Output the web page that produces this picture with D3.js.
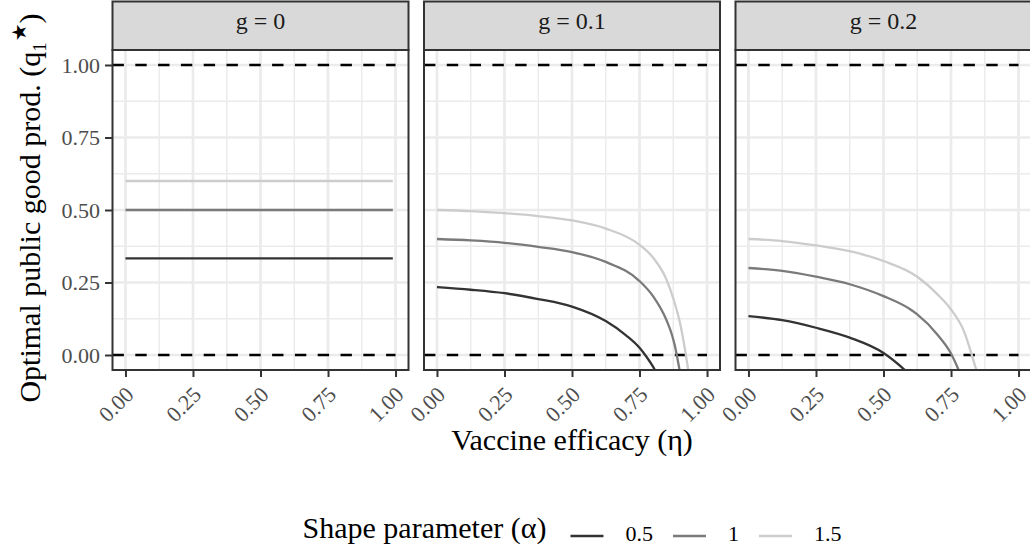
<!DOCTYPE html>
<html>
<head>
<meta charset="utf-8">
<script src="https://cdn.jsdelivr.net/npm/d3@7"></script>
<style>
  body { margin: 0; background: #fff; }
  svg { display: block; }
  text { font-family: "Liberation Serif", "Times New Roman", serif; }
</style>
</head>
<body>
<svg id="chart" width="1030" height="557"></svg>
<script>
// ---- data ----
const facetLabels = ["g = 0", "g = 0.1", "g = 0.2"];
const alphaLevels = ["0.5", "1", "1.5"];
const xTicks = [0, 0.25, 0.5, 0.75, 1];
const yTicks = [0, 0.25, 0.5, 0.75, 1];
const xMinor = [0.125, 0.375, 0.625, 0.875];
const yMinor = [0.125, 0.375, 0.625, 0.875];
const refLevels = [0, 1];          // dashed reference lines
const refEnd = 1;                  // reference lines run up to eta = 1

// [eta, q1*] pairs, one array per (g, alpha)
const g0_a05 = [[0, 0.333], [0.99, 0.333]];
const g0_a1  = [[0, 0.5], [0.99, 0.5]];
const g0_a15 = [[0, 0.6], [0.99, 0.6]];

const g01_a05 = [[0, 0.234], [0.125, 0.225], [0.25, 0.213], [0.375, 0.193], [0.5, 0.167],
                 [0.625, 0.117], [0.7, 0.068], [0.75, 0.025], [0.775, -0.005], [0.8, -0.04], [0.82, -0.075]];
const g01_a1  = [[0, 0.4], [0.125, 0.395], [0.25, 0.387], [0.375, 0.373], [0.5, 0.355],
                 [0.625, 0.321], [0.75, 0.255], [0.8, 0.203], [0.85, 0.12], [0.87, 0.07],
                 [0.88, 0.035], [0.89, -0.01], [0.9, -0.06]];
const g01_a15 = [[0, 0.5], [0.125, 0.496], [0.25, 0.489], [0.375, 0.479], [0.5, 0.464],
                 [0.625, 0.436], [0.75, 0.38], [0.8, 0.336], [0.85, 0.26], [0.875, 0.195],
                 [0.9, 0.11], [0.92, 0.01], [0.93, -0.05], [0.935, -0.08]];

const g02_a05 = [[0, 0.134], [0.125, 0.12], [0.25, 0.094], [0.375, 0.06], [0.5, 0.007],
                 [0.577, -0.05], [0.6, -0.07]];
const g02_a1  = [[0, 0.3], [0.125, 0.29], [0.25, 0.27], [0.375, 0.244], [0.5, 0.203],
                 [0.6, 0.157], [0.625, 0.14], [0.7, 0.07], [0.75, 0.005], [0.775, -0.045], [0.79, -0.08]];
const g02_a15 = [[0, 0.4], [0.125, 0.393], [0.25, 0.378], [0.375, 0.358], [0.5, 0.324],
                 [0.625, 0.27], [0.7, 0.209], [0.75, 0.157], [0.8, 0.077], [0.827, 0],
                 [0.845, -0.055], [0.855, -0.08]];

const facetSeries = [
  [g0_a05, g0_a1, g0_a15],
  [g01_a05, g01_a1, g01_a15],
  [g02_a05, g02_a1, g02_a15]
];

// ---- styling / layout ----
const alphaColors = ["#333333", "#7a7a7a", "#cccccc"];
const panelLeft0 = 112.5, panelStep = 311.5, panelW = 296;
const panelTop = 50, panelBottom = 370, stripTop = 1.5;
const tickFont = 22, stripFont = 24, titleFont = 30;

const svg = d3.select("#chart");
const defs = svg.append("defs");

const x = d3.scaleLinear().domain([-0.048, 1.048]).range([0, panelW]);
const y = d3.scaleLinear().domain([-0.0517, 1.0517]).range([panelBottom, panelTop]);

const line = d3.line()
  .x(d => x(d[0]))
  .y(d => y(d[1]))
  .curve(d3.curveMonotoneX);

facetLabels.forEach((lab, i) => {
  const left = panelLeft0 + i * panelStep;
  const g = svg.append("g").attr("transform", `translate(${left},0)`);

  defs.append("clipPath").attr("id", "clip" + i)
    .append("rect").attr("x", 0).attr("y", panelTop)
    .attr("width", panelW).attr("height", panelBottom - panelTop);

  g.append("rect").attr("x", 0).attr("y", panelTop)
    .attr("width", panelW).attr("height", panelBottom - panelTop).attr("fill", "#fff");

  const grid = g.append("g");
  // minor grid
  grid.selectAll(".vmin").data(xMinor).join("line")
    .attr("x1", d => x(d)).attr("x2", d => x(d))
    .attr("y1", panelTop).attr("y2", panelBottom)
    .attr("stroke", "#ebebeb").attr("stroke-width", 1.4);
  grid.selectAll(".hmin").data(yMinor).join("line")
    .attr("x1", 0).attr("x2", panelW)
    .attr("y1", d => y(d)).attr("y2", d => y(d))
    .attr("stroke", "#ebebeb").attr("stroke-width", 1.4);
  // major grid
  grid.selectAll(".vmaj").data(xTicks).join("line")
    .attr("x1", d => x(d)).attr("x2", d => x(d))
    .attr("y1", panelTop).attr("y2", panelBottom)
    .attr("stroke", "#ebebeb").attr("stroke-width", 2.7);
  grid.selectAll(".hmaj").data(yTicks).join("line")
    .attr("x1", 0).attr("x2", panelW)
    .attr("y1", d => y(d)).attr("y2", d => y(d))
    .attr("stroke", "#ebebeb").attr("stroke-width", 2.7);

  const body = g.append("g").attr("clip-path", `url(#clip${i})`);

  // dashed reference lines at 0 and 1
  body.selectAll(".ref").data(refLevels).join("line")
    .attr("x1", 0).attr("x2", x(refEnd))
    .attr("y1", d => y(d)).attr("y2", d => y(d))
    .attr("stroke", "#000").attr("stroke-width", 2.6)
    .attr("stroke-dasharray", "11.4,11.4");

  // curves, one per alpha
  body.selectAll(".curve").data(facetSeries[i]).join("path")
    .attr("d", d => line(d))
    .attr("fill", "none")
    .attr("stroke", (d, k) => alphaColors[k])
    .attr("stroke-width", 2.3);

  // panel border
  g.append("rect").attr("x", 0).attr("y", panelTop)
    .attr("width", panelW).attr("height", panelBottom - panelTop)
    .attr("fill", "none").attr("stroke", "#333333").attr("stroke-width", 2);

  // strip
  g.append("rect").attr("x", 0).attr("y", stripTop)
    .attr("width", panelW).attr("height", panelTop - stripTop)
    .attr("fill", "#d9d9d9").attr("stroke", "#333333").attr("stroke-width", 2);
  g.append("text").attr("x", panelW / 2).attr("y", 29)
    .attr("text-anchor", "middle").attr("font-size", stripFont).attr("fill", "#1a1a1a")
    .text(lab);

  // x axis
  const xAxis = g.append("g").attr("transform", `translate(0,${panelBottom})`)
    .call(d3.axisBottom(x).tickValues(xTicks).tickFormat(d3.format(".2f")).tickSize(7));
  xAxis.select(".domain").remove();
  xAxis.selectAll(".tick line").attr("stroke", "#333333").attr("stroke-width", 2);
  xAxis.selectAll(".tick text")
    .attr("x", 0).attr("y", 0).attr("dy", "0.71em")
    .attr("transform", "translate(-2,15) rotate(-45)")
    .attr("text-anchor", "end")
    .attr("font-size", tickFont).attr("font-family", "Liberation Serif, serif")
    .attr("fill", "#4d4d4d");

  // y axis on the first panel only
  if (i === 0) {
    const yAxis = g.append("g")
      .call(d3.axisLeft(y).tickValues(yTicks).tickFormat(d3.format(".2f")).tickSize(7.5).tickPadding(5));
    yAxis.select(".domain").remove();
    yAxis.selectAll(".tick line").attr("stroke", "#333333").attr("stroke-width", 2);
    yAxis.selectAll(".tick text")
      .attr("font-size", tickFont).attr("font-family", "Liberation Serif, serif")
      .attr("fill", "#4d4d4d");
  }
});

// axis titles
const plotMid = (panelLeft0 + panelLeft0 + 2 * panelStep + panelW) / 2;
svg.append("text").attr("x", plotMid).attr("y", 450)
  .attr("text-anchor", "middle").attr("font-size", titleFont).attr("fill", "#000")
  .text("Vaccine efficacy (\u03b7)");

const yTitle = svg.append("text")
  .attr("transform", `translate(40,${(panelTop + panelBottom) / 2 - 2}) rotate(-90)`)
  .attr("text-anchor", "middle").attr("font-size", titleFont).attr("fill", "#000");
yTitle.append("tspan").text("Optimal public good prod. (q");
yTitle.append("tspan").attr("font-size", 19).attr("dy", 6).text("1");
yTitle.append("tspan").attr("font-size", 20).attr("dy", -20).attr("dx", 1)
  .attr("font-family", "DejaVu Sans, sans-serif").text("\u2605");
yTitle.append("tspan").attr("dy", 14).text(")");

// legend
const legend = svg.append("g");
const legY = 536;
const legTitle = legend.append("text").attr("x", 0).attr("y", 538)
  .attr("font-size", titleFont).attr("fill", "#000").text("Shape parameter (\u03b1)");
let cursor = legTitle.node().getComputedTextLength() + 24;
alphaLevels.forEach((lv, k) => {
  legend.append("line").attr("x1", cursor).attr("x2", cursor + 33)
    .attr("y1", legY).attr("y2", legY)
    .attr("stroke", alphaColors[k]).attr("stroke-width", 2.3);
  cursor += 33 + 22;
  const t = legend.append("text").attr("x", cursor).attr("y", 540.5)
    .attr("font-size", tickFont).attr("fill", "#000").text(lv);
  cursor += t.node().getComputedTextLength() + (k < alphaLevels.length - 1 ? 20 : 0);
});
legend.attr("transform", `translate(${plotMid - cursor / 2},0)`);
</script>
</body>
</html>
